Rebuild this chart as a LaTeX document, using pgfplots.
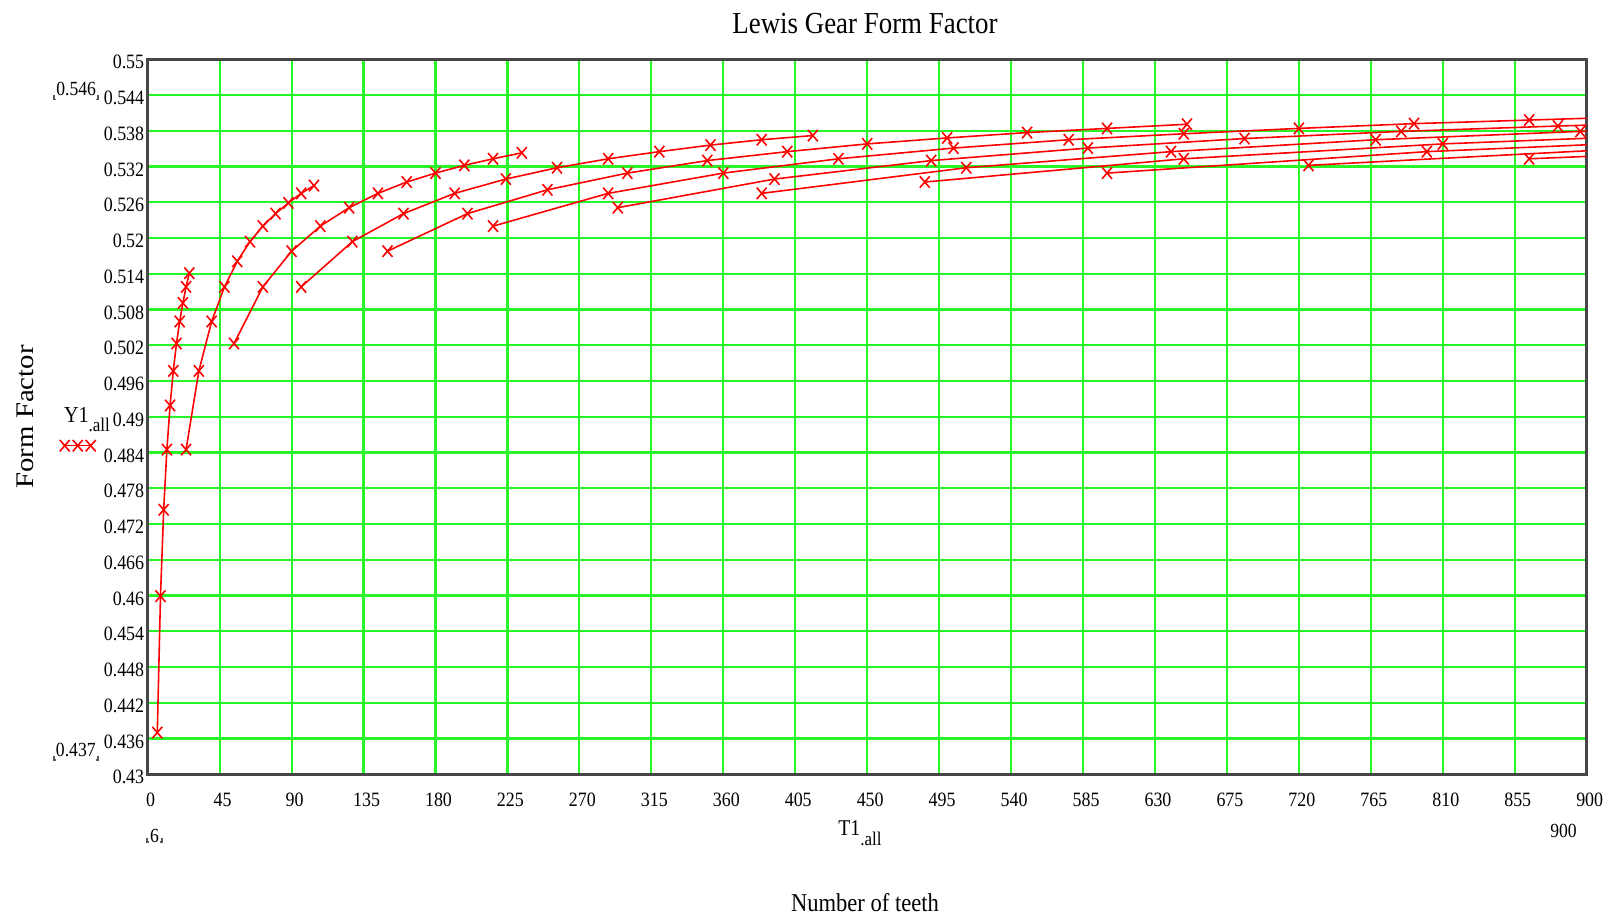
\documentclass[border=0pt]{standalone}
\usepackage{fontspec}
\setmainfont[FakeStretch=0.88]{Liberation Serif}
\newfontfamily\plainserif{Liberation Serif}
\usepackage{graphicx}
\usepackage{pgfplots}
\pgfplotsset{compat=1.18}
\definecolor{gridgreen}{RGB}{40,245,40}
\definecolor{axisgray}{RGB}{70,70,70}
\newcommand\fs[1]{\fontsize{#1}{#1}\selectfont}
\pgfplotsset{ser/.style={red, line width=0.45pt, mark=x, mark size=2pt, mark options={solid, line width=0.45pt, yscale=1.15}}}
\newcommand\corners[4]{%
  \draw[black!65, line width=0.45pt] (#1,918-#3) -- (#1,918-#4) -- (#1+2,918-#4);
  \draw[black!65, line width=0.45pt] (#2,918-#3) -- (#2,918-#4) -- (#2-2,918-#4);}
\begin{document}
\begin{tikzpicture}
\useasboundingbox (0,0) rectangle (16.15cm,9.18cm);
\begin{axis}[
  at={(1.477cm,1.437cm)}, anchor=south west,
  width=14.39cm, height=7.15cm, scale only axis,
  xmin=0, xmax=900, ymin=0.43, ymax=0.55,
  xtick={0,45,...,900},
  ytick={0.43,0.436,0.442,0.448,0.454,0.46,0.466,0.472,0.478,0.484,0.49,0.496,0.502,0.508,0.514,0.52,0.526,0.532,0.538,0.544,0.55},
  scaled y ticks=false,
  /pgf/number format/assume math mode=true,
  y tick label style={/pgf/number format/fixed, /pgf/number format/precision=3, inner xsep=0.8pt, yshift=-0.3mm},
  x tick label style={yshift=-0.63mm, xshift=0.3mm},
  ticklabel style={font=\fs{5.8}},
  grid=major, major grid style={draw=gridgreen, line width=0.6pt},
  major tick length=0pt,
  axis line style={draw=axisgray, line width=0.8pt},
  clip=true,
  legend style={draw=none, fill=none, inner sep=0pt, at={(-0.0616,0.4596)}, anchor=west, nodes={inner sep=0pt}},
  legend image code/.code={\draw[#1, mark repeat=1] plot coordinates {(0cm,0cm) (0.13cm,0cm) (0.26cm,0cm)};},
]
% n = 1
\addplot[ser] coordinates {(6,0.4370) (8,0.4599) (10,0.4744) (12,0.4845) (14,0.4919) (16,0.4977) (18,0.5023) (20,0.5060) (22,0.5091) (24,0.5118) (26,0.5141)};
\addlegendentry{}
% n = 2
\addplot[ser] coordinates {(24,0.4845) (32,0.4977) (40,0.5060) (48,0.5118) (56,0.5161) (64,0.5194) (72,0.5220) (80,0.5241) (88,0.5259) (96,0.5275) (104,0.5288)};
% n = 3
\addplot[ser] coordinates {(54,0.5023) (72,0.5118) (90,0.5178) (108,0.5220) (126,0.5251) (144,0.5275) (162,0.5294) (180,0.5309) (198,0.5322) (216,0.5333) (234,0.5343)};
% n = 4
\addplot[ser] coordinates {(96,0.5118) (128,0.5194) (160,0.5241) (192,0.5275) (224,0.5299) (256,0.5318) (288,0.5333) (320,0.5345) (352,0.5356) (384,0.5365) (416,0.5372)};
% n = 5
\addplot[ser] coordinates {(150,0.5178) (200,0.5241) (250,0.5281) (300,0.5309) (350,0.5330) (400,0.5345) (450,0.5358) (500,0.5368) (550,0.5377) (600,0.5384) (650,0.5391)};
% n = 6
\addplot[ser] coordinates {(216,0.5220) (288,0.5275) (360,0.5309) (432,0.5333) (504,0.5351) (576,0.5365) (648,0.5375) (720,0.5384) (792,0.5392) (864,0.5398) (936,0.5404)};
% n = 7
\addplot[ser] coordinates {(294,0.5251) (392,0.5299) (490,0.5330) (588,0.5351) (686,0.5367) (784,0.5379) (882,0.5388) (980,0.5396)};
% n = 8
\addplot[ser] coordinates {(384,0.5275) (512,0.5318) (640,0.5345) (768,0.5365) (896,0.5379) (1024,0.5390)};
% n = 9
\addplot[ser] coordinates {(486,0.5294) (648,0.5333) (810,0.5358) (972,0.5375)};
% n = 10
\addplot[ser] coordinates {(600,0.5309) (800,0.5345) (1000,0.5368)};
% n = 11
\addplot[ser] coordinates {(726,0.5322) (968,0.5356)};
% n = 12
\addplot[ser] coordinates {(864,0.5333) (1152,0.5365)};
\end{axis}
\node[font=\fs{8.7}] at (8.65cm,8.943cm) {Lewis Gear Form Factor};
\node[rotate=90, font=\plainserif\fs{8.2}] at (0.2575cm,5.01cm) {\scalebox{1}[0.88]{Form Factor}};
\node[anchor=base west, font=\fs{6.5}, inner sep=0pt] at (0.633cm,4.953cm) {Y1\raisebox{-2.6pt}{\fs{5.5}.all}};
\node[font=\fs{5.7}] at (0.762cm,8.288cm) {0.546};
\node[font=\fs{5.7}] at (0.758cm,1.68cm) {0.437};
\node[font=\fs{5.7}] at (1.545cm,0.816cm) {6};
\node[font=\fs{5.7}] at (15.635cm,0.87cm) {900};
\node[anchor=base, font=\fs{6.4}, inner sep=0pt] at (8.60cm,0.82cm) {T1\raisebox{-2.6pt}{\fs{5.5}.all}};
\node[font=\fs{7.3}] at (8.65cm,0.157cm) {Number of teeth};
\begin{scope}[x=0.01cm, y=0.01cm]
\corners{54}{98}{95}{99}
\corners{54}{98}{756}{760}
\corners{147}{162}{838}{842}
\end{scope}
\end{tikzpicture}
\end{document}
